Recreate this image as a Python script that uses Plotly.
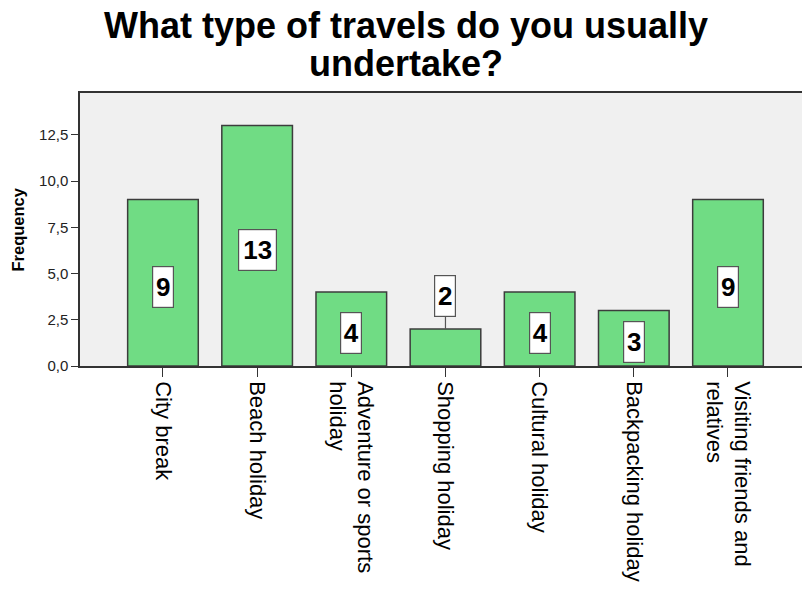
import plotly.graph_objects as go

categories = ["City break", "Beach holiday", "Adventure or sports holiday", "Shopping holiday",
              "Cultural holiday", "Backpacking holiday", "Visiting friends and relatives"]
tick_labels = ["City break", "Beach holiday", "Adventure or sports<br>holiday", "Shopping holiday",
               "Cultural holiday", "Backpacking holiday", "Visiting friends and<br>relatives"]
frequencies = [9, 13, 4, 2, 4, 3, 9]
y_ticks = [0, 2.5, 5, 7.5, 10, 12.5]

FONT = "Liberation Sans, Arial, sans-serif"

fig = go.Figure()
fig.add_trace(go.Bar(
    x=categories, y=frequencies, width=0.75,
    marker=dict(color="#70DC84", line=dict(color="#3C3C3C", width=1.5)),
    hoverinfo="x+y",
))

annotations = []
for c, v in zip(categories, frequencies):
    w = 20 if v < 10 else 37
    common = dict(x=c, text="<b>%d</b>" % v, font=dict(family=FONT, size=26, color="black"),
                  bgcolor="white", bordercolor="#555555", borderwidth=1.2, borderpad=0,
                  width=w, height=40, xref="x", yref="y")
    if v < 2.5:
        annotations.append(dict(y=v, showarrow=True, ax=0, ay=-33, arrowhead=0, arrowwidth=1.2,
                                arrowcolor="#555555", standoff=0, **common))
    else:
        annotations.append(dict(y=v / 2, yshift=-4, showarrow=False, **common))

# Title (two lines, tight spacing)
annotations.append(dict(text="<b>What type of travels do you usually</b>", xref="paper", yref="paper",
                        x=0.4515, y=1.2455, xanchor="center", yanchor="middle", showarrow=False,
                        font=dict(family=FONT, size=36, color="black")))
annotations.append(dict(text="<b>undertake?</b>", xref="paper", yref="paper",
                        x=0.4515, y=1.1063, xanchor="center", yanchor="middle", showarrow=False,
                        font=dict(family=FONT, size=36, color="black")))
# Y axis title
annotations.append(dict(text="<b>Frequency</b>", xref="paper", yref="paper", x=-0.0859, y=0.5,
                        xanchor="center", yanchor="middle", textangle=-90, showarrow=False,
                        font=dict(family=FONT, size=16.5, color="black")))

fig.update_layout(
    width=802, height=591,
    margin=dict(l=80, r=0, t=93, b=225, pad=0),
    paper_bgcolor="white", plot_bgcolor="#F0F0F0",
    separators=",.",
    showlegend=False,
    annotations=annotations,
    font=dict(family=FONT, color="black"),
    xaxis=dict(
        type="category", range=[-0.881, 6.786],
        tickvals=categories, ticktext=tick_labels, tickangle=90,
        tickfont=dict(family=FONT, size=22, color="black"),
        showline=True, linecolor="#333333", linewidth=1.5, mirror=True,
        ticks="outside", ticklen=9, tickcolor="#333333", tickwidth=1.2,
        showgrid=False, zeroline=False,
    ),
    yaxis=dict(
        range=[0, 14.76], tickvals=y_ticks, tickformat=".1f",
        tickfont=dict(family=FONT, size=15, color="#222222"),
        showline=True, linecolor="#333333", linewidth=1.5,
        ticks="outside", ticklen=7, tickcolor="#333333", tickwidth=1.2,
        showgrid=False, zeroline=False,
    ),
)

fig.write_html("out.html")
